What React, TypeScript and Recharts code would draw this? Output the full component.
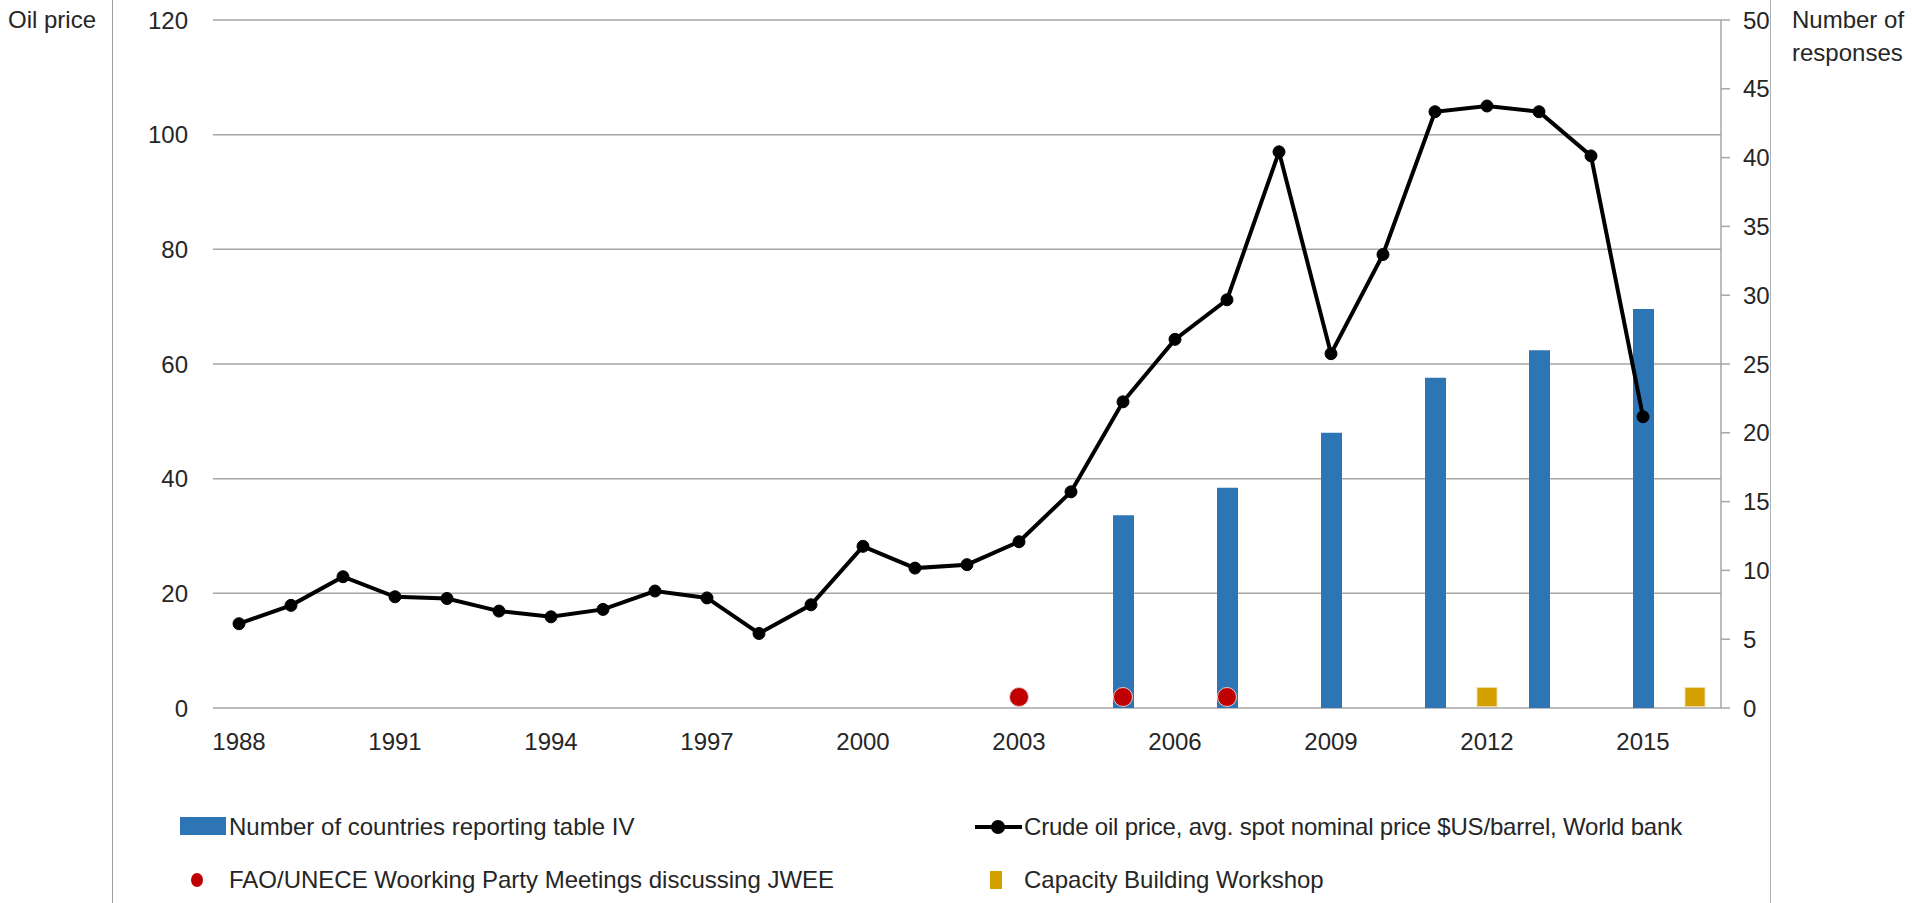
import React from "react";
import {
  ComposedChart,
  Bar,
  Line,
  XAxis,
  YAxis,
  CartesianGrid,
} from "recharts";

const years = [
  "1988", "1989", "1990", "1991", "1992", "1993", "1994", "1995", "1996", "1997",
  "1998", "1999", "2000", "2001", "2002", "2003", "2004", "2005", "2006", "2007",
  "2008", "2009", "2010", "2011", "2012", "2013", "2014", "2015", "2016",
];

const oilPrice: (number | null)[] = [
  14.7, 17.9, 22.9, 19.4, 19.1, 16.9, 15.9, 17.2, 20.4, 19.2,
  13.0, 18.0, 28.2, 24.4, 25.0, 29.0, 37.7, 53.4, 64.3, 71.2,
  97.0, 61.8, 79.1, 104.0, 105.0, 104.0, 96.3, 50.8, null,
];

const countriesReporting: (number | null)[] = [
  null, null, null, null, null, null, null, null, null, null,
  null, null, null, null, null, null, null, 14, null, 16,
  null, 20, null, 24, null, 26, null, 29, null,
];

const meetings: (number | null)[] = [
  null, null, null, null, null, null, null, null, null, null,
  null, null, null, null, null, 0.8, null, 0.8, null, 0.8,
  null, null, null, null, null, null, null, null, null,
];

const workshops: (number | null)[] = [
  null, null, null, null, null, null, null, null, null, null,
  null, null, null, null, null, null, null, null, null, null,
  null, null, null, null, 0.8, null, null, null, 0.8,
];

const leftTicks = [0, 20, 40, 60, 80, 100, 120];
const rightTicks = [0, 5, 10, 15, 20, 25, 30, 35, 40, 45, 50];

const seriesNames = {
  bars: "Number of countries reporting table IV",
  line: "Crude oil price, avg. spot nominal price $US/barrel, World bank",
  meetings: "FAO/UNECE Woorking Party Meetings discussing JWEE",
  workshops: "Capacity Building Workshop",
};

const data = years.map((y, i) => ({
  year: y,
  oil: oilPrice[i],
  countries: countriesReporting[i],
  meeting: meetings[i],
  workshop: workshops[i],
}));

const FONT = "'Liberation Sans', Arial, sans-serif";
const TEXT = "#262626";
const GRID = "#a6a6a6";

const RedDot = (props: any) => {
  const { cx, cy, value } = props;
  if (value == null || cx == null || cy == null) return <g key={props.key} />;
  return <circle key={props.key} cx={cx} cy={cy} r={9.5} fill="#C00000" stroke="#e8c8c8" strokeWidth={1} />;
};

const GoldSquare = (props: any) => {
  const { cx, cy, value } = props;
  if (value == null || cx == null || cy == null) return <g key={props.key} />;
  return <rect key={props.key} x={cx - 10} y={cy - 9.5} width={20} height={19} fill="#D4A000" stroke="#f0dca0" strokeWidth={1} />;
};

const labelStyle: React.CSSProperties = {
  position: "absolute",
  fontFamily: FONT,
  fontSize: 24,
  color: TEXT,
  whiteSpace: "nowrap",
  lineHeight: "28px",
};

export default function App() {
  return (
    <div style={{ position: "absolute", left: 0, top: 0, width: 1912, height: 903, background: "#fff", overflow: "hidden" }}>
      <div style={{ position: "absolute", left: 112, top: 0, width: 1, height: 903, background: "#a0a0a0" }} />
      <div style={{ position: "absolute", left: 1770, top: 0, width: 1, height: 903, background: "#b0b0b0" }} />
      <div style={{ ...labelStyle, left: 8, top: 6 }}>Oil price</div>
      <div style={{ ...labelStyle, left: 1792, top: 6 }}>Number of</div>
      <div style={{ ...labelStyle, left: 1792, top: 39 }}>responses</div>

      <div style={{ position: "absolute", left: 0, top: 0 }}>
        <ComposedChart
          width={1912}
          height={903}
          data={data}
          margin={{ top: 20, right: 131, bottom: 155, left: 0 }}
          style={{ fontFamily: FONT }}
        >
          <CartesianGrid yAxisId="left" vertical={false} stroke={GRID} strokeWidth={1.5} />
          <XAxis
            dataKey="year"
            interval={2}
            axisLine={false}
            tickLine={false}
            tickSize={0}
            tickMargin={25}
            height={40}
            tick={{ fill: TEXT, fontSize: 24, fontFamily: FONT }}
          />
          <YAxis
            yAxisId="left"
            orientation="left"
            domain={[0, 120]}
            ticks={leftTicks}
            width={213}
            axisLine={false}
            tickLine={false}
            tickSize={0}
            tickMargin={25}
            tick={{ fill: TEXT, fontSize: 24, fontFamily: FONT }}
          />
          <YAxis
            yAxisId="right"
            orientation="right"
            domain={[0, 50]}
            ticks={rightTicks}
            width={60}
            axisLine={{ stroke: GRID, strokeWidth: 1.5 }}
            tickLine={{ stroke: GRID, strokeWidth: 1.5 }}
            tickSize={9}
            tickMargin={13}
            tick={{ fill: TEXT, fontSize: 24, fontFamily: FONT }}
          />
          <Bar
            yAxisId="right"
            dataKey="countries"
            name={seriesNames.bars}
            fill="#2E75B6"
            barSize={21}
            isAnimationActive={false}
          />
          <Line
            yAxisId="left"
            dataKey="oil"
            name={seriesNames.line}
            stroke="#000"
            strokeWidth={4}
            dot={{ r: 6, fill: "#000", stroke: "#000", strokeWidth: 1 }}
            activeDot={false}
            isAnimationActive={false}
          />
          <Line
            yAxisId="right"
            dataKey="meeting"
            name={seriesNames.meetings}
            stroke="none"
            dot={RedDot}
            activeDot={false}
            isAnimationActive={false}
          />
          <Line
            yAxisId="right"
            dataKey="workshop"
            name={seriesNames.workshops}
            stroke="none"
            dot={GoldSquare}
            activeDot={false}
            isAnimationActive={false}
          />
        </ComposedChart>
      </div>

      {/* Legend */}
      <svg style={{ position: "absolute", left: 0, top: 0 }} width={1912} height={903} pointerEvents="none">
        <rect x={180} y={817} width={46} height={18} fill="#2E75B6" />
        <line x1={975} y1={827} x2={1022} y2={827} stroke="#000" strokeWidth={4} />
        <circle cx={998} cy={827} r={7} fill="#000" />
        <ellipse cx={197} cy={880} rx={6} ry={7} fill="#C00000" />
        <rect x={990} y={871} width={12} height={18} fill="#D4A000" />
      </svg>
      <div style={{ ...labelStyle, left: 229, top: 813 }}>{seriesNames.bars}</div>
      <div style={{ ...labelStyle, left: 1024, top: 813, letterSpacing: -0.2 }}>{seriesNames.line}</div>
      <div style={{ ...labelStyle, left: 229, top: 866 }}>{seriesNames.meetings}</div>
      <div style={{ ...labelStyle, left: 1024, top: 866 }}>{seriesNames.workshops}</div>
    </div>
  );
}
